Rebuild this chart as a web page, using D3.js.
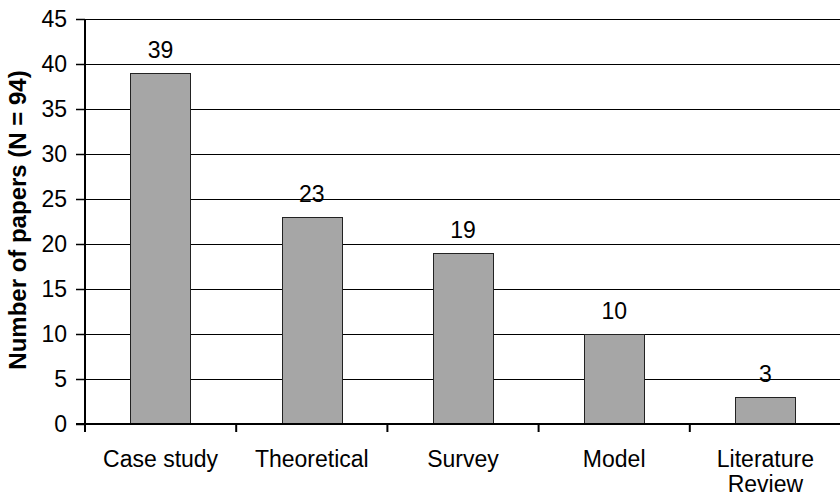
<!DOCTYPE html>
<html>
<head>
<meta charset="utf-8">
<script src="https://cdn.jsdelivr.net/npm/d3@7"></script>
<style>
  html, body { margin: 0; padding: 0; background: #fff; }
  svg { display: block; font-family: "Liberation Sans", Arial, sans-serif; }
</style>
</head>
<body>
<svg id="chart" width="840" height="497"></svg>
<script>
// Research methods of the reviewed papers
const categories = ["Case study", "Theoretical", "Survey", "Model", "Literature Review"];
const paperCounts = [39, 23, 19, 10, 3];
const yTicks = [0, 5, 10, 15, 20, 25, 30, 35, 40, 45];

const svg = d3.select("#chart");
const plotLeft = 85, plotRight = 841, plotTop = 19, plotBottom = 424;
const fontSize = 23;

const x = d3.scaleBand()
  .domain(categories)
  .range([plotLeft, plotRight])
  .paddingInner(0.6)
  .paddingOuter(0.3);

const y = d3.scaleLinear().domain([0, 45]).range([plotBottom, plotTop]);

// horizontal gridlines
svg.append("g")
  .selectAll("line")
  .data(yTicks.filter(d => d > 0))
  .join("line")
  .attr("x1", plotLeft).attr("x2", 840)
  .attr("y1", d => Math.round(y(d)) + 0.5)
  .attr("y2", d => Math.round(y(d)) + 0.5)
  .attr("stroke", "#000")
  .attr("stroke-width", 1);

// bars
svg.append("g")
  .selectAll("rect")
  .data(categories)
  .join("rect")
  .attr("x", d => Math.round(x(d)) + 0.5)
  .attr("y", (d, i) => Math.round(y(paperCounts[i])) + 0.5)
  .attr("width", Math.round(x.bandwidth()))
  .attr("height", (d, i) => Math.round(y(0)) - Math.round(y(paperCounts[i])))
  .attr("fill", "#a6a6a6")
  .attr("stroke", "#222")
  .attr("stroke-width", 1);

// value labels
svg.append("g")
  .selectAll("text")
  .data(categories)
  .join("text")
  .attr("x", d => x(d) + x.bandwidth() / 2)
  .attr("y", (d, i) => y(paperCounts[i]) - 15)
  .attr("text-anchor", "middle")
  .attr("font-size", fontSize)
  .attr("fill", "#000")
  .text((d, i) => paperCounts[i]);

// y axis
const yAxis = d3.axisLeft(y)
  .tickValues(yTicks)
  .tickSize(9)
  .tickPadding(9)
  .tickFormat(d3.format("d"));
const gy = svg.append("g")
  .attr("transform", `translate(${plotLeft},0)`)
  .call(yAxis);
gy.select(".domain").attr("stroke", "#000").attr("stroke-width", 2)
  .attr("d", `M0,${plotTop}V${plotBottom}`);
gy.selectAll(".tick line").attr("stroke", "#000").attr("stroke-width", 1.5);
gy.selectAll(".tick text").attr("font-size", fontSize).attr("fill", "#000")
  .attr("font-family", "Liberation Sans, Arial, sans-serif");

// x axis: baseline and ticks between categories
const step = x.step();
const boundaries = d3.range(0, categories.length + 1).map(i => plotLeft + i * step);
svg.append("line")
  .attr("x1", plotLeft - 9).attr("x2", 840)
  .attr("y1", plotBottom).attr("y2", plotBottom)
  .attr("stroke", "#000").attr("stroke-width", 2);
svg.append("g")
  .selectAll("line")
  .data(boundaries)
  .join("line")
  .attr("x1", d => d).attr("x2", d => d)
  .attr("y1", plotBottom).attr("y2", plotBottom + 8)
  .attr("stroke", "#000").attr("stroke-width", 2);

// category labels
const catLabels = svg.append("g")
  .selectAll("text")
  .data(categories)
  .join("text")
  .attr("x", d => x(d) + x.bandwidth() / 2)
  .attr("y", 467)
  .attr("text-anchor", "middle")
  .attr("font-size", fontSize)
  .attr("fill", "#000");
catLabels.each(function (d) {
  const words = d === "Literature Review" ? ["Literature", "Review"] : [d];
  const t = d3.select(this);
  words.forEach((w, i) => {
    t.append("tspan")
      .attr("x", x(d) + x.bandwidth() / 2)
      .attr("dy", i === 0 ? 0 : 25)
      .text(w);
  });
});

// y axis title
svg.append("text")
  .attr("transform", `translate(26,220) rotate(-90)`)
  .attr("text-anchor", "middle")
  .attr("font-size", 24)
  .attr("font-weight", "bold")
  .attr("fill", "#000")
  .text("Number of papers (N = 94)");
</script>
</body>
</html>
